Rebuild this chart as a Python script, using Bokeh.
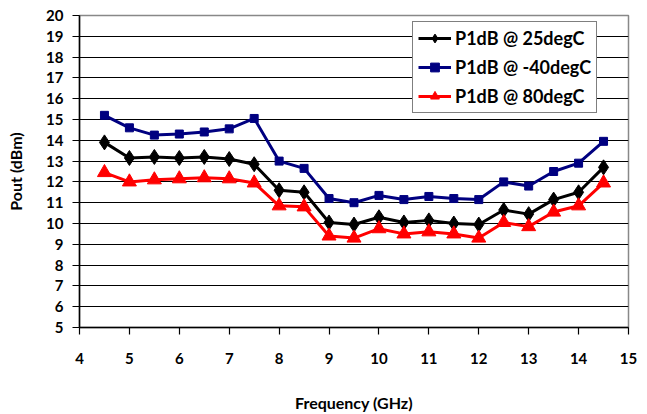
from bokeh.plotting import figure
from bokeh.models import Range1d, FixedTicker, Legend, LegendItem
from bokeh.embed import file_html
from bokeh.resources import INLINE

freq = [4.5, 5, 5.5, 6, 6.5, 7, 7.5, 8, 8.5, 9, 9.5, 10, 10.5, 11, 11.5, 12, 12.5, 13, 13.5, 14, 14.5]
p1db_25 = [13.9, 13.15, 13.2, 13.15, 13.2, 13.1, 12.85, 11.6, 11.5, 10.05, 9.95, 10.3, 10.05, 10.15, 10.0, 9.95, 10.65, 10.45, 11.15, 11.5, 12.7]
p1db_m40 = [15.2, 14.6, 14.25, 14.3, 14.4, 14.55, 15.05, 13.0, 12.65, 11.2, 11.0, 11.35, 11.15, 11.3, 11.2, 11.15, 12.0, 11.8, 12.5, 12.9, 13.95]
p1db_80 = [12.45, 12.0, 12.1, 12.15, 12.2, 12.15, 11.95, 10.85, 10.8, 9.4, 9.3, 9.75, 9.5, 9.6, 9.5, 9.3, 10.05, 9.85, 10.55, 10.85, 11.95]
x_ticks = list(range(4, 16))
y_ticks = list(range(5, 21))

FONT = "Lato"

p = figure(width=639, height=414, output_backend="svg", toolbar_location=None,
           x_range=Range1d(4, 15), y_range=Range1d(5, 20),
           min_border_left=79, min_border_right=11, min_border_top=15, min_border_bottom=81)
p.background_fill_color = "white"
p.border_fill_color = "white"
p.outline_line_color = "#888888"
p.outline_line_width = 1.5

p.xgrid.visible = False
p.ygrid.grid_line_color = "black"
p.ygrid.grid_line_width = 1.2
p.ygrid.ticker = FixedTicker(ticks=y_ticks)

for ax in (p.xaxis[0], p.yaxis[0]):
    ax.axis_line_color = "black"
    ax.axis_line_width = 1.5
    ax.major_tick_line_color = "black"
    ax.major_tick_line_width = 1.2
    ax.major_tick_out = 7
    ax.major_tick_in = 0
    ax.minor_tick_line_color = None
    ax.major_label_text_font = FONT
    ax.major_label_text_font_style = "bold"
    ax.major_label_text_font_size = "15px"
    ax.major_label_text_color = "black"
    ax.axis_label_text_font = FONT
    ax.axis_label_text_font_style = "bold"
    ax.axis_label_text_font_size = "16px"
    ax.axis_label_text_color = "black"

p.xaxis.ticker = FixedTicker(ticks=x_ticks)
p.yaxis.ticker = FixedTicker(ticks=y_ticks)
p.xaxis.axis_label = "Frequency (GHz)"
p.yaxis.axis_label = "Pout (dBm)"
p.xaxis.major_label_standoff = 18
p.xaxis.axis_label_standoff = 26
p.yaxis.major_label_standoff = 9
p.yaxis.axis_label_standoff = 18

l1 = p.line(freq, p1db_25, line_color="black", line_width=3)
m1 = p.scatter(freq, p1db_25, marker="diamond", size=15, fill_color="black", line_color="black")
l2 = p.line(freq, p1db_m40, line_color="#000080", line_width=3)
m2 = p.scatter(freq, p1db_m40, marker="square", size=8, fill_color="#000080", line_color="#000080")
l3 = p.line(freq, p1db_80, line_color="#ff0000", line_width=3)
m3 = p.scatter(freq, p1db_80, marker="triangle", size=14, fill_color="#ff0000", line_color="#ff0000")

legend = Legend(items=[
    LegendItem(label="P1dB @ 25degC", renderers=[l1, m1]),
    LegendItem(label="P1dB @ -40degC", renderers=[l2, m2]),
    LegendItem(label="P1dB @ 80degC", renderers=[l3, m3]),
], location=(333, 214))
legend.label_text_font = FONT
legend.label_text_font_style = "bold"
legend.label_text_font_size = "18px"
legend.label_text_color = "black"
legend.border_line_color = "black"
legend.border_line_width = 1.5
legend.background_fill_color = "white"
legend.background_fill_alpha = 1
legend.glyph_width = 33
legend.glyph_height = 22
legend.spacing = 7
legend.padding = 5
legend.margin = 0
legend.label_standoff = 4
p.add_layout(legend, "center")

open("out.html", "w").write(file_html(p, INLINE))
